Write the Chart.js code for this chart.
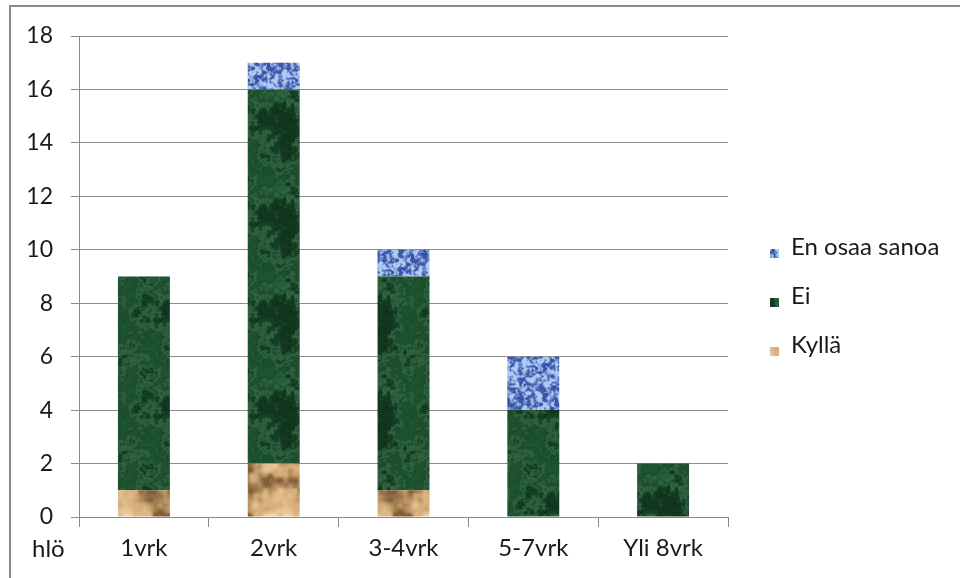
<!DOCTYPE html>
<html>
<head>
<meta charset="utf-8">
<script src="https://cdn.jsdelivr.net/npm/chart.js@4"></script>
<style>
html,body{margin:0;padding:0;background:#fff;}
#wrap{position:relative;width:960px;height:578px;}
canvas{display:block;}
</style>
</head>
<body>
<div id="wrap"><canvas id="c" width="960" height="578"></canvas></div>
<script>
// ---- data ----
const categories = ["1vrk", "2vrk", "3-4vrk", "5-7vrk", "Yli 8vrk"];
const kylla = [1, 2, 1, 0, 0];
const ei = [8, 14, 8, 4, 2];
const enOsaa = [0, 1, 1, 2, 0];
const yTicks = [0, 2, 4, 6, 8, 10, 12, 14, 16, 18];
const seriesNames = ["Kyllä", "Ei", "En osaa sanoa"];
const unitLabel = "hlö";

// ---- texture helpers (styling only) ----
function makeRng(seed){ let s = seed >>> 0; return () => { s = (s * 1664525 + 1013904223) >>> 0; return s / 4294967296; }; }
function noiseField(size, cells, rng){
  const g = []; for (let i=0;i<cells*cells;i++) g.push(rng());
  const f = new Float32Array(size*size);
  const sm = t => t*t*(3-2*t);
  for (let y=0;y<size;y++) for (let x=0;x<size;x++){
    const gx = x/size*cells, gy = y/size*cells;
    const x0 = Math.floor(gx), y0 = Math.floor(gy);
    const tx = sm(gx-x0), ty = sm(gy-y0);
    const a = g[(y0%cells)*cells + (x0%cells)], b = g[(y0%cells)*cells + ((x0+1)%cells)];
    const c = g[((y0+1)%cells)*cells + (x0%cells)], d = g[((y0+1)%cells)*cells + ((x0+1)%cells)];
    f[y*size+x] = (a*(1-tx)+b*tx)*(1-ty) + (c*(1-tx)+d*tx)*ty;
  }
  return f;
}
function makePattern(seed, size, octaves, colorFn){
  const rng = makeRng(seed);
  const fields = octaves.map(o => ({w:o[1], f:noiseField(size, o[0], rng)}));
  const cv = document.createElement('canvas'); cv.width = size; cv.height = size;
  const cx = cv.getContext('2d'); const img = cx.createImageData(size, size);
  for (let i=0;i<size*size;i++){
    let v = 0, tw = 0; for (const fl of fields){ v += fl.f[i]*fl.w; tw += fl.w; } v /= tw;
    const col = colorFn(v, rng());
    img.data[i*4]=col[0]; img.data[i*4+1]=col[1]; img.data[i*4+2]=col[2]; img.data[i*4+3]=255;
  }
  cx.putImageData(img,0,0);
  return document.getElementById('c').getContext('2d').createPattern(cv,'repeat');
}
const mix = (a,b,t) => [a[0]+(b[0]-a[0])*t, a[1]+(b[1]-a[1])*t, a[2]+(b[2]-a[2])*t];
const clamp = t => Math.max(0, Math.min(1, t));

const greenPat = makePattern(7, 96, [[4,1],[8,0.7],[24,0.5],[48,0.3]], (v, r) => {
  const vein = Math.max(0, 1 - Math.abs(v-0.52)*10);
  let c = mix([12,46,26],[28,82,46], clamp((v-0.3)*2.2));
  c = mix(c, [72,132,88], vein*0.55);
  return mix(c, [50,105,65], r*0.25);
});
const sandPat = makePattern(11, 80, [[3,1],[6,0.7],[16,0.35]], (v, r) => {
  let c;
  if (v < 0.5) c = mix([120,85,50],[210,168,115], clamp((v-0.3)*5));
  else c = mix([210,168,115],[245,220,180], clamp((v-0.5)*4));
  return mix(c, [250,225,185], r*0.12);
});
const bluePat = makePattern(23, 48, [[12,1],[24,0.9]], (v, r) => {
  let c = mix([40,72,160],[175,200,242], clamp((v-0.32)*2.8));
  return mix(c, [205,220,248], r*0.2);
});

const seriesFills = [sandPat, greenPat, bluePat];
const seriesData = [kylla, ei, enOsaa];

// ---- plugins ----
const FONT = "Lato, 'Open Sans', sans-serif";
const decor = {
  id: 'decor',
  beforeDraw(chart){
    const ctx = chart.ctx;
    ctx.save();
    ctx.fillStyle = '#ffffff'; ctx.fillRect(0,0,chart.width,chart.height);
    ctx.strokeStyle = '#8a8a8a'; ctx.lineWidth = 2;
    ctx.beginPath(); ctx.moveTo(10, 578); ctx.lineTo(10, 6); ctx.lineTo(960, 6); ctx.stroke();
    ctx.restore();
  },
  afterDraw(chart){
    const ctx = chart.ctx;
    ctx.save();
    ctx.fillStyle = '#1a1a1a';
    ctx.font = "24px " + FONT;
    ctx.textBaseline = 'middle';
    ctx.textAlign = 'left';
    ctx.fillText(unitLabel, 32, 549);
    // legend (reverse order)
    const rowsY = [247, 296, 345];
    const ds = chart.data.datasets.slice().reverse();
    ds.forEach((d, i) => {
      const y = rowsY[i];
      ctx.fillStyle = d.backgroundColor;
      ctx.fillRect(770, y+2, 9, 9);
      ctx.fillStyle = '#1a1a1a';
      ctx.fillText(d.label, 791, y);
    });
    ctx.restore();
  }
};

new Chart(document.getElementById('c'), {
  type: 'bar',
  data: {
    labels: categories,
    datasets: seriesNames.map((n, i) => ({
      label: n, data: seriesData[i], backgroundColor: seriesFills[i],
      borderWidth: 0, categoryPercentage: 1.0, barPercentage: 0.4
    }))
  },
  options: {
    responsive: false,
    animation: false,
    devicePixelRatio: 1,
    layout: { padding: { left: 0, right: 232, top: 36, bottom: 0 } },
    plugins: { legend: { display: false }, tooltip: { enabled: false } },
    scales: {
      x: {
        stacked: true,
        afterFit(s){ s.height = 61; },
        grid: { offset: true, drawOnChartArea: false, drawTicks: true, tickLength: 10, color: '#8a8a8a', lineWidth: 1 },
        border: { display: true, color: '#8a8a8a', width: 1 },
        ticks: { color: '#1a1a1a', font: { family: FONT, size: 24 }, padding: 7, maxRotation: 0 }
      },
      y: {
        stacked: true,
        min: 0, max: 18,
        afterFit(s){ s.width = 79; },
        afterBuildTicks(s){ s.ticks = yTicks.map(v => ({ value: v })); },
        grid: { color: '#8c8c8c', lineWidth: 1, tickLength: 8, drawTicks: true },
        border: { display: true, color: '#8a8a8a', width: 1 },
        ticks: { color: '#1a1a1a', font: { family: FONT, size: 23 }, padding: 18 }
      }
    }
  },
  plugins: [decor]
});
</script>
</body>
</html>
